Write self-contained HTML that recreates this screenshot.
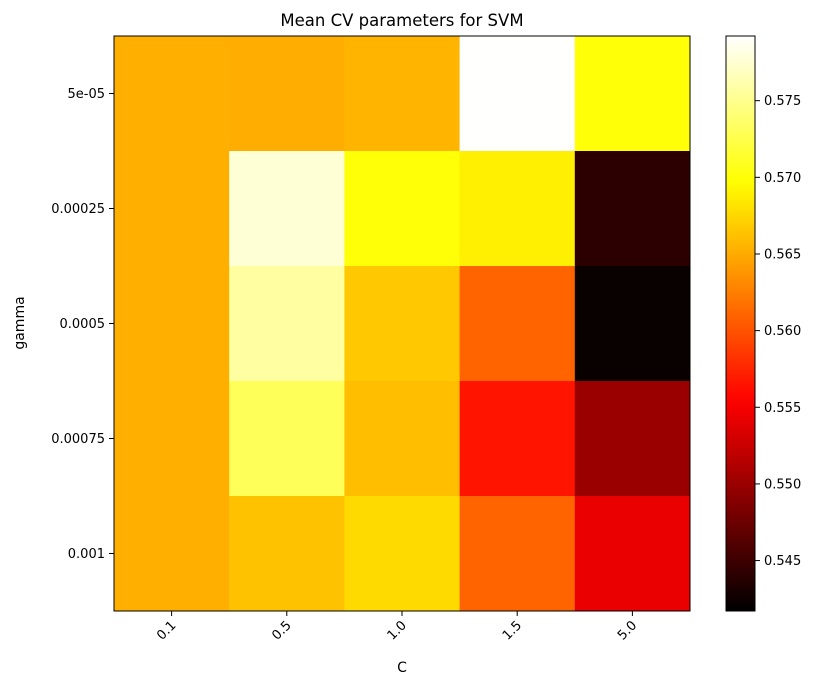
<!DOCTYPE html>
<html><head><meta charset="utf-8"><style>
html,body{margin:0;padding:0;background:#fff;}
svg text{font-family:"DejaVu Sans","Liberation Sans",sans-serif;fill:#000;}
</style></head><body>
<svg id="chart" width="826" height="687" viewBox="0 0 826 687" xmlns="http://www.w3.org/2000/svg">
<text x="402" y="26" font-size="16.5" text-anchor="middle">Mean CV parameters for SVM</text>
<g id="cells"></g>
<rect x="114" y="36" width="576" height="575" fill="none" stroke="#000" stroke-width="1"/>
<g id="xaxis"></g>
<g id="yaxis"></g>
<text x="402" y="672" font-size="14" text-anchor="middle">C</text>
<text x="0" y="0" font-size="14" text-anchor="middle" transform="translate(24,323) rotate(-90)">gamma</text>
<defs><linearGradient id="cbgrad" x1="0" y1="1" x2="0" y2="0"></linearGradient></defs>
<rect x="726" y="36" width="29" height="575" fill="url(#cbgrad)" stroke="#000" stroke-width="1"/>
<g id="cbaxis"></g>
</svg>
<script>
const cLabels = ["0.1","0.5","1.0","1.5","5.0"];
const gammaLabels = ["5e-05","0.00025","0.0005","0.00075","0.001"];
const row5e05 = [0.5652,0.5651,0.5655,0.5792,0.5700];
const row00025 = [0.5652,0.5777,0.5700,0.5688,0.5441];
const row0005 = [0.5652,0.5757,0.5666,0.5610,0.5422];
const row00075 = [0.5652,0.5730,0.5661,0.5565,0.5500];
const row001 = [0.5652,0.5663,0.5676,0.5610,0.5543];
const cbTicks = [0.545,0.550,0.555,0.560,0.565,0.570,0.575];
const vmin = 0.54171, vmax = 0.57922;

const rows = [row5e05,row00025,row0005,row00075,row001];
const NS = "http://www.w3.org/2000/svg";
const px0=114, py0=36, pw=576, ph=575;
const cw = pw/cLabels.length, ch = ph/gammaLabels.length;
function xPos(i){return px0+i*cw;}
function yPos(j){return py0+j*ch;}
function cbY(v){return 611-(v-vmin)/(vmax-vmin)*575;}
function hot(t){
  t=Math.max(0,Math.min(1,t));
  const r=Math.min(1,t/0.365079), g=Math.max(0,Math.min(1,(t-0.365079)/(0.746032-0.365079))), b=Math.max(0,Math.min(1,(t-0.746032)/(1-0.746032)));
  return `rgb(${Math.round(r*255)},${Math.round(g*255)},${Math.round(b*255)})`;
}
function mk(tag,attrs){const e=document.createElementNS(NS,tag);for(const k in attrs)e.setAttribute(k,attrs[k]);return e;}
const cells=document.getElementById('cells');
rows.forEach((row,j)=>row.forEach((v,i)=>{
  const r=mk('rect',{x:xPos(i),y:yPos(j),width:cw+0.5,height:ch+0.5,fill:hot((v-vmin)/(vmax-vmin))});
  
  
  cells.appendChild(r);
}));
const xa=document.getElementById('xaxis');
cLabels.forEach((l,i)=>{
  const cx=xPos(i)+cw/2;
  const t=mk('line',{x1:cx,y1:611,x2:cx,y2:616,stroke:'#000'});
  
  
  xa.appendChild(t);
  const tx=mk('text',{x:0,y:0,'font-size':13,'text-anchor':'end',transform:`translate(${cx+5},${626}) rotate(-45)`});
  
  
  tx.textContent=l; xa.appendChild(tx);
});
const ya=document.getElementById('yaxis');
gammaLabels.forEach((l,j)=>{
  const cy=yPos(j)+ch/2;
  const t=mk('line',{x1:109,y1:cy,x2:114,y2:cy,stroke:'#000'});
  
  
  ya.appendChild(t);
  const tx=mk('text',{x:105,y:cy+4.5,'font-size':13,'text-anchor':'end'});
  
  
  tx.textContent=l; ya.appendChild(tx);
});
const grad=document.getElementById('cbgrad');
for(let k=0;k<=40;k++){const s=mk('stop',{offset:(k/40),'stop-color':hot(k/40)});grad.appendChild(s);}
const cba=document.getElementById('cbaxis');
cbTicks.forEach(v=>{
  const y=cbY(v);
  const t=mk('line',{x1:755,y1:y,x2:760,y2:y,stroke:'#000'});
  
  
  cba.appendChild(t);
  const tx=mk('text',{x:764,y:y+4.5,'font-size':13});
  
  
  tx.textContent=v.toFixed(3); cba.appendChild(tx);
});
</script>
</body></html>
